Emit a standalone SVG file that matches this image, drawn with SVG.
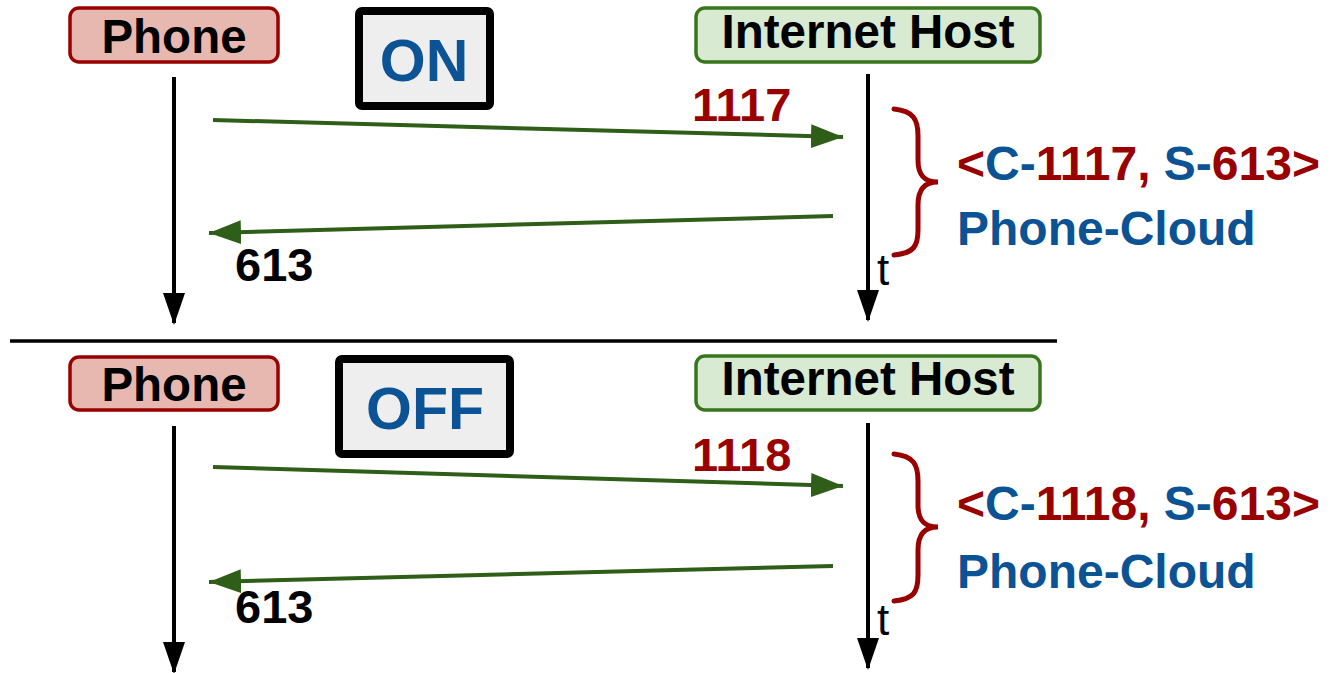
<svg xmlns="http://www.w3.org/2000/svg" width="1335" height="673" viewBox="0 0 1335 673">
  <defs>
    <marker id="msg" markerWidth="32" markerHeight="24" refX="32" refY="12" orient="auto" markerUnits="userSpaceOnUse">
      <path d="M0,0 L32,12 L0,24 Z" fill="#2e5e17"/>
    </marker>
    <marker id="time" markerWidth="24" markerHeight="32" refX="12" refY="30" orient="0" markerUnits="userSpaceOnUse">
      <path d="M1,0 L23,0 L12,32 Z" fill="#000"/>
    </marker>
  </defs>
  <style>
    text { font-family: "Liberation Sans", Arial, sans-serif; font-weight: bold; }
    .phone rect { fill: #e6b8af; stroke: #990000; stroke-width: 3.5; }
    .host rect { fill: #d9ead3; stroke: #38761d; stroke-width: 3.5; }
    .state rect { fill: #eeeeee; stroke: #000; stroke-width: 8; }
    .lbl { font-size: 47.5px; fill: #000; text-anchor: middle; }
    .state text { font-size: 59px; fill: #0b5394; text-anchor: middle; }
    .life { stroke: #000; stroke-width: 4; marker-end: url(#time); }
    .msg { stroke: #2e5e17; stroke-width: 4; marker-end: url(#msg); }
    .brace { fill: none; stroke: #990000; stroke-width: 5; stroke-linecap: round; }
    .num { font-size: 47px; }
    .side { font-size: 48px; }
    .red { fill: #990000; }
    .blue { fill: #0b5394; }
    .tick { font-size: 44px; font-weight: normal; fill: #000; }
  </style>

  <!-- separator between the two scenarios -->
  <line x1="10" y1="341" x2="1057" y2="341" stroke="#000" stroke-width="3.5"/>

  <!-- ===== upper scenario: ON ===== -->
  <g id="phone-on" class="phone">
    <rect x="70" y="8" width="208" height="54" rx="9"/>
    <text class="lbl" x="174" y="53">Phone</text>
  </g>
  <g id="host-on" class="host">
    <rect x="696" y="8" width="344" height="54" rx="9"/>
    <text class="lbl" x="868" y="48">Internet Host</text>
  </g>
  <g id="state-on" class="state">
    <rect x="359" y="11" width="131" height="95" rx="3"/>
    <text x="424" y="81">ON</text>
  </g>

  <!-- ===== lower scenario: OFF ===== -->
  <g id="phone-off" class="phone">
    <rect x="70" y="357" width="208" height="53" rx="9"/>
    <text class="lbl" x="174" y="401">Phone</text>
  </g>
  <g id="host-off" class="host">
    <rect x="696" y="356" width="344" height="54" rx="9"/>
    <text class="lbl" x="868" y="395">Internet Host</text>
  </g>
  <g id="state-off" class="state">
    <rect x="339" y="359" width="171" height="95" rx="3"/>
    <text x="425" y="429">OFF</text>
  </g>

  <!-- connectors: lifelines and messages -->
  <g id="connectors">
    <line class="life" x1="174" y1="77" x2="174" y2="323"/>
    <line class="life" x1="868" y1="74" x2="868" y2="320"/>
    <line class="msg" x1="213" y1="120" x2="843" y2="137"/>
    <line class="msg" x1="833" y1="216" x2="209" y2="233"/>

    <line class="life" x1="174" y1="426" x2="174" y2="672"/>
    <line class="life" x1="868" y1="423" x2="868" y2="668"/>
    <line class="msg" x1="213" y1="467" x2="843" y2="486"/>
    <line class="msg" x1="833" y1="566" x2="209" y2="582"/>
  </g>

  <!-- message labels -->
  <g id="labels-on">
    <text class="num red" x="692" y="121">1117</text>
    <text class="num" x="235" y="281" fill="#000">613</text>
    <text class="tick" x="877" y="285">t</text>
    <path class="brace" d="M894,109 C914,111 918,120 918,136 L918,160 C918,175 924,182 938,182 C924,182 918,190 918,205 L918,230 C918,246 914,253 894,255"/>
    <text class="side" x="957" y="180"><tspan class="red">&lt;</tspan><tspan class="blue">C-</tspan><tspan class="red">1117, </tspan><tspan class="blue">S-</tspan><tspan class="red">613&gt;</tspan></text>
    <text class="side blue" x="957" y="245">Phone-Cloud</text>
  </g>
  <g id="labels-off">
    <text class="num red" x="692" y="471">1118</text>
    <text class="num" x="235" y="623" fill="#000">613</text>
    <text class="tick" x="877" y="635">t</text>
    <path class="brace" d="M894,454 C914,456 918,465 918,481 L918,505 C918,520 924,527 938,527 C924,527 918,535 918,550 L918,575 C918,592 914,599 894,601"/>
    <text class="side" x="957" y="520"><tspan class="red">&lt;</tspan><tspan class="blue">C-</tspan><tspan class="red">1118, </tspan><tspan class="blue">S-</tspan><tspan class="red">613&gt;</tspan></text>
    <text class="side blue" x="957" y="588">Phone-Cloud</text>
  </g>
</svg>
